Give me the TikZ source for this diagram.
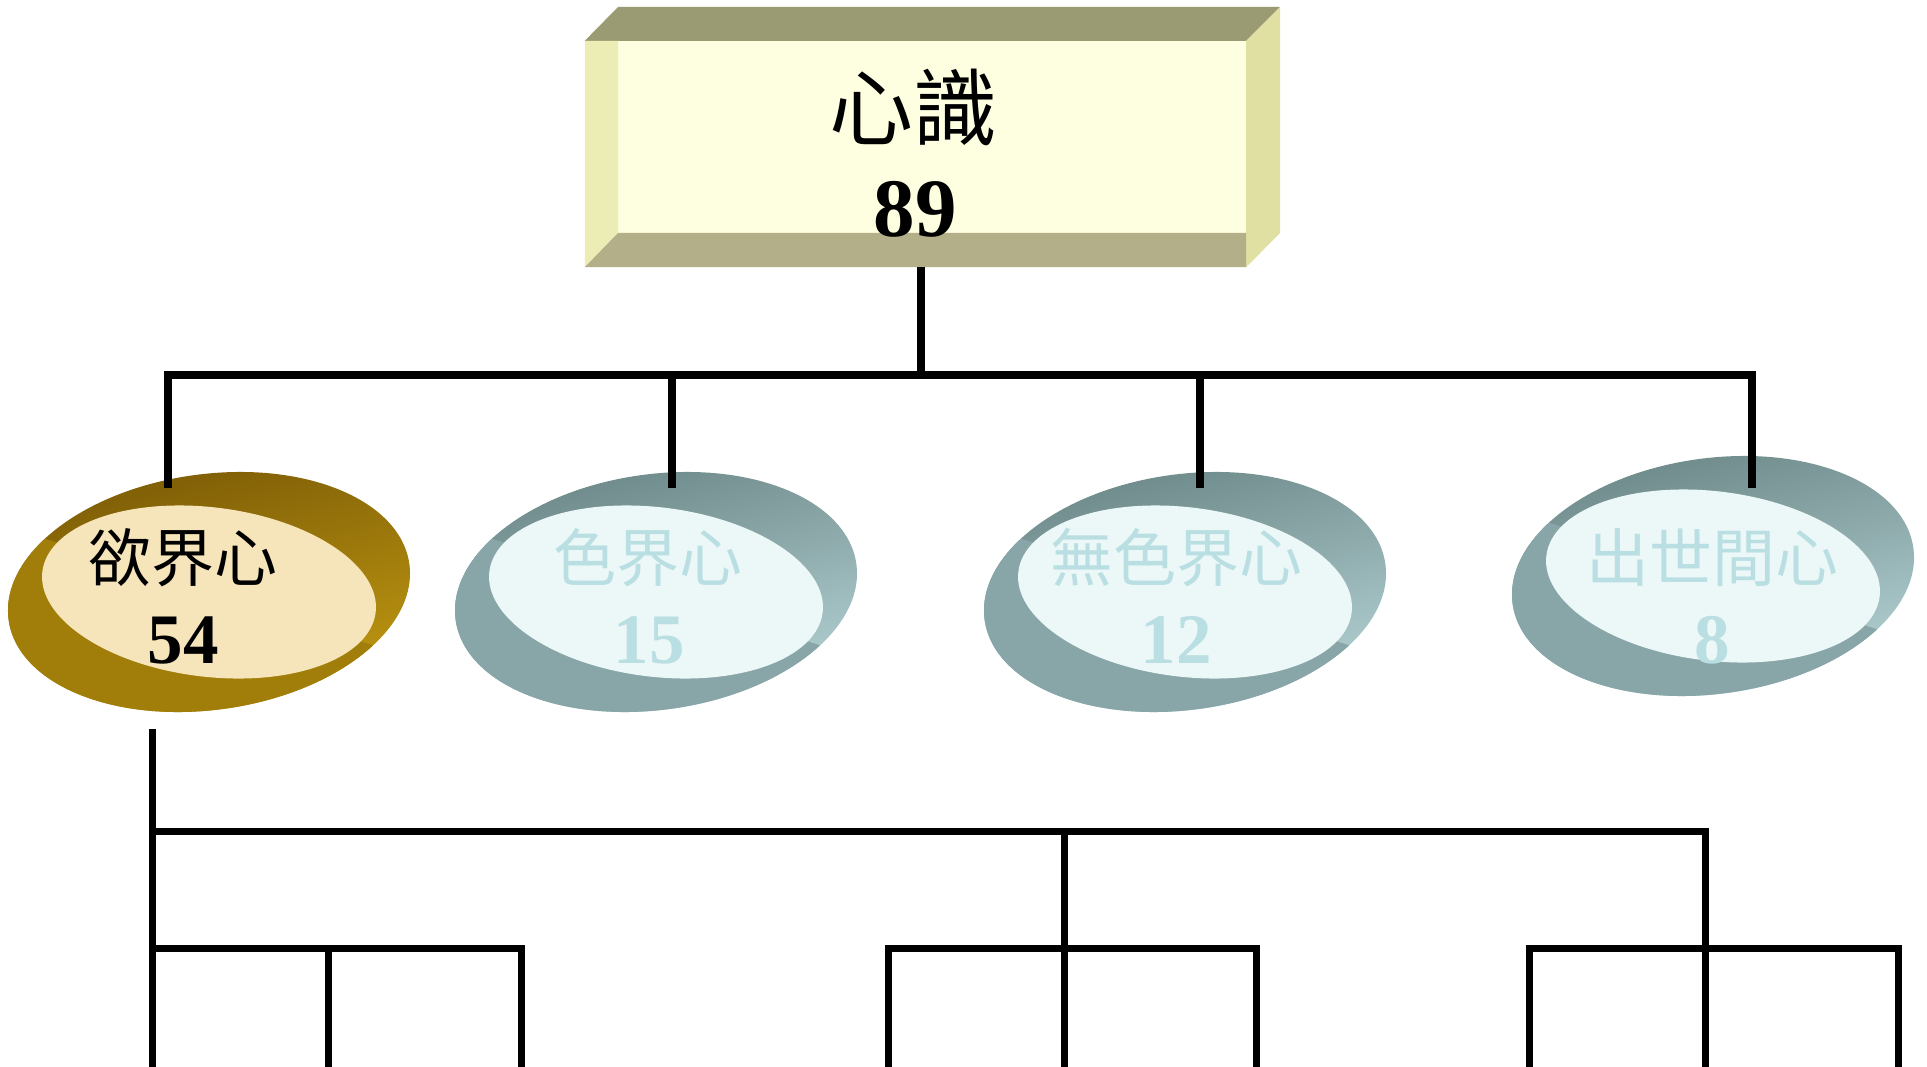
\documentclass[tikz,border=0pt]{standalone}
\usepackage{fontspec}
\setmainfont{Liberation Serif}
\newfontfamily\cjk{Noto Sans CJK TC}
\usetikzlibrary{shapes.geometric}
\definecolor{goldDark}{HTML}{7A5A06}
\definecolor{goldLight}{HTML}{C49C12}
\definecolor{goldMid}{HTML}{A17D0A}
\definecolor{goldInner}{HTML}{F6E5BA}
\definecolor{tealDark}{HTML}{6A8585}
\definecolor{tealLight}{HTML}{B8D6D9}
\definecolor{tealMid}{HTML}{88A5A8}
\definecolor{tealInner}{HTML}{ECF7F7}
\definecolor{tealText}{HTML}{BADFE3}
\definecolor{boxTop}{HTML}{9B9B73}
\definecolor{boxRight}{HTML}{E0E0A3}
\definecolor{boxFront}{HTML}{FEFEE0}
\definecolor{boxLeft}{HTML}{ECECB5}
\definecolor{boxBottom}{HTML}{B3AF88}
\begin{document}
\begin{tikzpicture}[x=1pt,y=-1pt,
  outerring/.style={shape=ellipse, inner sep=0pt, minimum width=404.6pt, minimum height=235.6pt, rotate=8, shading=axis},
  innerface/.style={shape=ellipse, inner sep=0pt, minimum width=335.8pt, minimum height=169.4pt, rotate=-7},
  goldouter/.style={outerring, top color=goldDark, bottom color=goldLight, shading angle=14},
  tealouter/.style={outerring, top color=tealDark, bottom color=tealLight, shading angle=14},
  cjklabel/.style={anchor=base, inner sep=0pt, font=\cjk\fontsize{63}{63}\selectfont},
  numlabel/.style={anchor=base, inner sep=0pt, font=\bfseries\fontsize{71}{71}\selectfont},
  conn/.style={line width=7.5pt, black, line join=miter},
  twig/.style={line width=7pt, black, line join=miter},
  lowrim/.style={rotate=-18}]
\useasboundingbox (0,0) rectangle (1927,1067);

% ---- root box ----
\node[fill=boxFront, minimum width=661pt, minimum height=226pt, inner sep=0pt] (root) at (915.5,154) {};
\fill[boxTop] (root.north west) -- (618,7) -- (1280,7) -- (root.north east) -- cycle;
\fill[boxRight] (root.north east) -- (1280,7) -- (1280,233) -- (root.south east) -- cycle;
\fill[boxLeft] (root.north west) -- (618,41) -- (618,233) -- (root.south west) -- cycle;
\fill[boxBottom] (root.south west) -- (618,233) -- (1246,233) -- (root.south east) -- cycle;
\node[anchor=base, inner sep=0pt, font=\cjk\fontsize{84}{84}\selectfont] (rootT) at (913,140) {心識};
\node[anchor=base, inner sep=0pt, font=\bfseries\fontsize{83}{83}\selectfont] (rootN) at (915,237) {89};

% ---- four ellipses: outer ring ----
\node[goldouter] (o1) at (209,592) {};
\node[tealouter] (o2) at (656,592) {};
\node[tealouter] (o3) at (1185,592) {};
\node[tealouter] (o4) at (1713,576) {};

% lower-left rim of each ring
\begin{scope}[shift={(o1.center)}]
  \clip[rotate=8] (0,0) ellipse [x radius=202.3pt, y radius=117.8pt];
  \fill[goldMid, lowrim] (-320,0) rectangle (320,320);
\end{scope}
\begin{scope}[shift={(o2.center)}]
  \clip[rotate=8] (0,0) ellipse [x radius=202.3pt, y radius=117.8pt];
  \fill[tealMid, lowrim] (-320,0) rectangle (320,320);
\end{scope}
\begin{scope}[shift={(o3.center)}]
  \clip[rotate=8] (0,0) ellipse [x radius=202.3pt, y radius=117.8pt];
  \fill[tealMid, lowrim] (-320,0) rectangle (320,320);
\end{scope}
\begin{scope}[shift={(o4.center)}]
  \clip[rotate=8] (0,0) ellipse [x radius=202.3pt, y radius=117.8pt];
  \fill[tealMid, lowrim] (-320,0) rectangle (320,320);
\end{scope}

% inner faces
\node[innerface, fill=goldInner] (i1) at (o1.center) {};
\node[innerface, fill=tealInner] (i2) at (o2.center) {};
\node[innerface, fill=tealInner] (i3) at (o3.center) {};
\node[innerface, fill=tealInner] (i4) at (o4.center) {};

\node[cjklabel] (t1) at (183,581) {欲界心};
\node[numlabel] (n1) at (183,663) {54};
\node[cjklabel, text=tealText] (t2) at (648,581) {色界心};
\node[numlabel, text=tealText] (n2) at (649,663) {15};
\node[cjklabel, text=tealText] (t3) at (1176,581) {無色界心};
\node[numlabel, text=tealText] (n3) at (1176,663) {12};
\node[cjklabel, text=tealText] (t4) at (1712,581) {出世間心};
\node[numlabel, text=tealText] (n4) at (1712,663) {8};

% ---- upper connectors ----
\coordinate (hub) at (921,375);
\coordinate (tap1) at (168,375);
\coordinate (tap2) at (672,375);
\coordinate (tap3) at (1200,375);
\coordinate (tap4) at (1752,375);
\coordinate (end1) at (168,488);
\coordinate (end2) at (672,488);
\coordinate (end3) at (1200,488);
\coordinate (end4) at (1752,488);
\draw[conn] (root.south -| hub) -- (hub);
\draw[conn] (end1) -- (tap1) -- (tap4) -- (end4);
\draw[conn] (tap2) -- (end2);
\draw[conn] (tap3) -- (end3);

% ---- lower tree ----
\coordinate (k0) at (152,729);
\coordinate (k1) at (152,831);
\coordinate (k2) at (1064,831);
\coordinate (k3) at (1705,831);
\coordinate (m2) at (1064,948);
\coordinate (m3) at (1705,948);
\coordinate (a1) at (152,948);  \coordinate (a2) at (328,948);  \coordinate (a3) at (521,948);
\coordinate (b1) at (888,948);  \coordinate (b3) at (1256,948);
\coordinate (c1) at (1529,948); \coordinate (c3) at (1898,948);
\coordinate (a1e) at (152,1067); \coordinate (a2e) at (328,1067); \coordinate (a3e) at (521,1067);
\coordinate (b1e) at (888,1067); \coordinate (b2e) at (1064,1067); \coordinate (b3e) at (1256,1067);
\coordinate (c1e) at (1529,1067); \coordinate (c2e) at (1705,1067); \coordinate (c3e) at (1898,1067);

\draw[twig] (k0) -- (a1e);
\draw[twig] (k1) -- (k3) -- (m3);
\draw[twig] (k2) -- (m2);
\draw[twig] (a1) -- (a3) -- (a3e);
\draw[twig] (a2) -- (a2e);
\draw[twig] (b1e) -- (b1) -- (b3) -- (b3e);
\draw[twig] (m2) -- (b2e);
\draw[twig] (c1e) -- (c1) -- (c3) -- (c3e);
\draw[twig] (m3) -- (c2e);
\end{tikzpicture}
\end{document}
